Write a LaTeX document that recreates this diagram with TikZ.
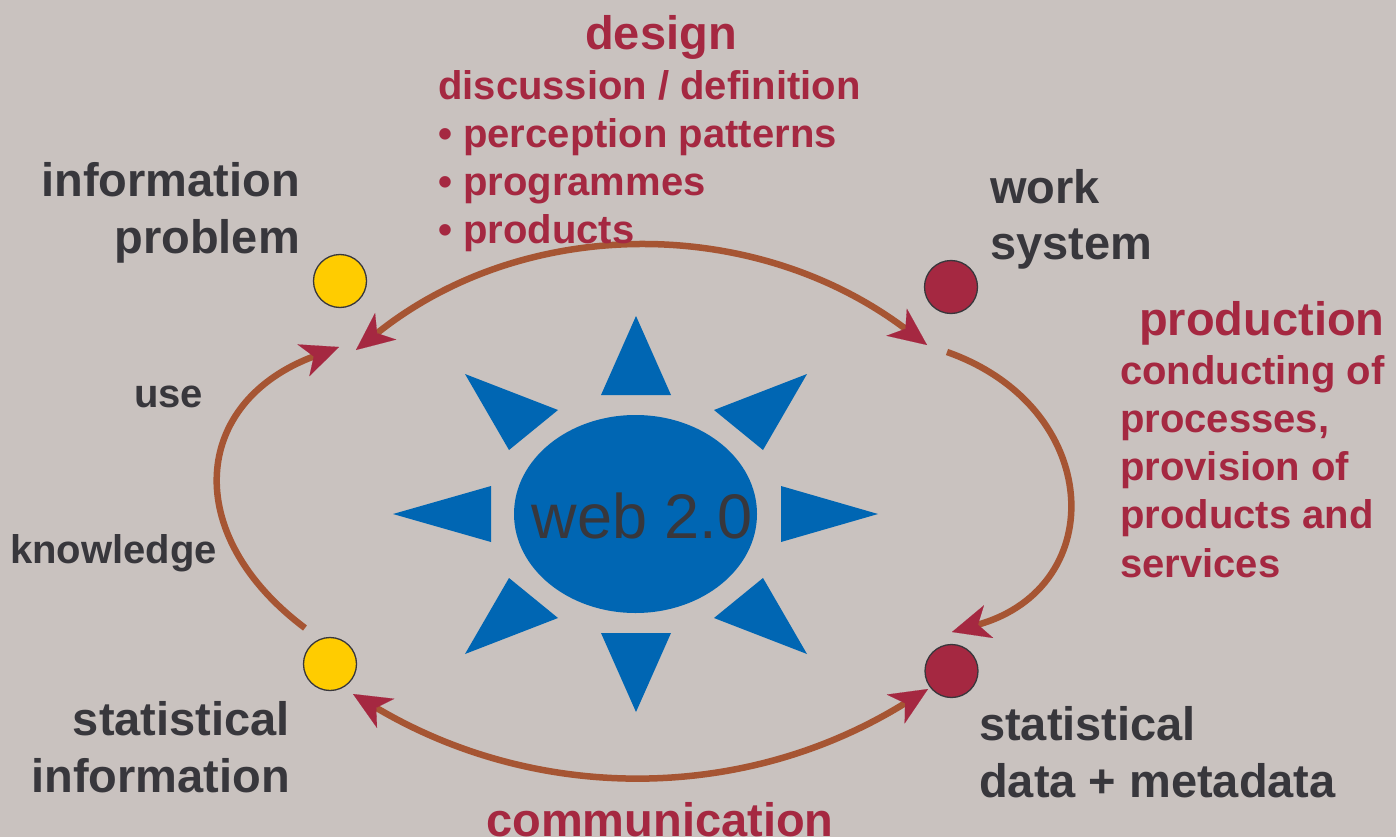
\documentclass[tikz,border=0pt]{standalone}
\usepackage{fontspec}
\setmainfont{Liberation Sans}
\usetikzlibrary{arrows.meta,shapes.geometric}
\definecolor{bg}{HTML}{C9C2BF}
\definecolor{ink}{HTML}{38373C}
\definecolor{crim}{HTML}{A52841}
\definecolor{rust}{HTML}{A65533}
\definecolor{sunblue}{HTML}{0066B3}
\definecolor{sunyellow}{HTML}{FFCC00}
\begin{document}
\begin{tikzpicture}[x=1pt,y=-1pt,
  bigdark/.style={font=\fontsize{47}{57}\selectfont\bfseries, inner sep=0pt, text=ink},
  smalldark/.style={font=\fontsize{40}{48}\selectfont\bfseries, inner sep=0pt, text=ink},
  bigred/.style={font=\fontsize{47}{57}\selectfont\bfseries, inner sep=0pt, text=crim},
  smallred/.style={font=\fontsize{40}{47.7}\selectfont\bfseries, inner sep=0pt, text=crim},
  dot/.style={circle, draw=ink, line width=1.3pt, minimum size=53pt, inner sep=0pt},
  cyc/.style={draw=rust, line width=6.5pt},
  ray/.style={fill=sunblue},
  >={Stealth[length=38pt,width=34pt,inset=11pt,color=crim,line width=0.1pt]}
]
\fill[bg] (0,0) rectangle (1396,837);
\useasboundingbox (0,0) rectangle (1396,837);

% sun rays
\fill[ray] (636,316) -- (671,395) -- (601,395) -- cycle;
\fill[ray] (636,712) -- (671,633) -- (601,633) -- cycle;
\fill[ray] (393,514) -- (491,486) -- (491,542) -- cycle;
\fill[ray] (878,514) -- (781,486) -- (781,542) -- cycle;
\fill[ray] (465,374) -- (558,410) -- (509,450) -- cycle;
\fill[ray] (807,374) -- (714,410) -- (763,450) -- cycle;
\fill[ray] (465,654) -- (558,618) -- (509,578) -- cycle;
\fill[ray] (807,654) -- (714,618) -- (763,578) -- cycle;

% centre
\node[ellipse, fill=sunblue, minimum width=243pt, minimum height=198pt, inner sep=0pt] (sun) at (635.5,514) {};
\node[font=\fontsize{63}{70}\selectfont, text=ink, inner sep=0pt, anchor=base] (web) at (642,538) {web 2.0};

% circles
\node[dot, fill=sunyellow] (infoprob) at (340,281) {};
\node[dot, fill=crim] (worksys) at (951,287) {};
\node[dot, fill=crim] (statdata) at (951.5,671) {};
\node[dot, fill=sunyellow] (statinfo) at (330,664) {};

% connector end points
\coordinate (ta) at (356,350);
\coordinate (tb) at (927,345);
\coordinate (ra) at (947,352);
\coordinate (rb) at (952,632);
\coordinate (ba) at (353,694);
\coordinate (bb) at (928,689);
\coordinate (la) at (305,628);
\coordinate (lb) at (339,347);

\draw[cyc,<->] (ta) .. controls (525,215) and (754,215) .. (tb);
\draw[cyc,->] (ra) .. controls (1103,407) and (1111,587) .. (rb);
\draw[cyc,<->] (ba) .. controls (537,803) and (744,803) .. (bb);
\draw[cyc,->] (la) .. controls (180,534) and (192,402) .. (lb);

% texts (base anchor of a multi-line node = baseline of its last line)
\node[bigred, anchor=base] (design) at (661,50) {design};
\node[smallred, anchor=base west, align=left] (designlist) at (438,243)
  {discussion / definition\\• perception patterns\\• programmes\\• products};
\node[bigdark, anchor=base east, align=right] (infoproblbl) at (300,253) {information\\problem};
\node[bigdark, anchor=base west, align=left, font=\fontsize{47}{56}\selectfont\bfseries] (worksyslbl) at (990,259) {work\\system};
\node[bigred, anchor=base west] (production) at (1139,335) {production};
\node[smallred, anchor=base west, align=left, font=\fontsize{40}{48.2}\selectfont\bfseries] (prodlist) at (1120,577)
  {conducting of\\processes,\\provision of\\products and\\services};
\node[smalldark, anchor=base west] (use) at (134,407) {use};
\node[smalldark, anchor=base west] (knowledge) at (10,563) {knowledge};
\node[bigdark, anchor=base east, align=right] (statinfolbl) at (290,792) {statistical\\information};
\node[bigdark, anchor=base west, align=left] (statdatalbl) at (979,797) {statistical\\data + metadata};
\node[bigred, anchor=base] (communication) at (660,836) {communication};
\end{tikzpicture}
\end{document}
